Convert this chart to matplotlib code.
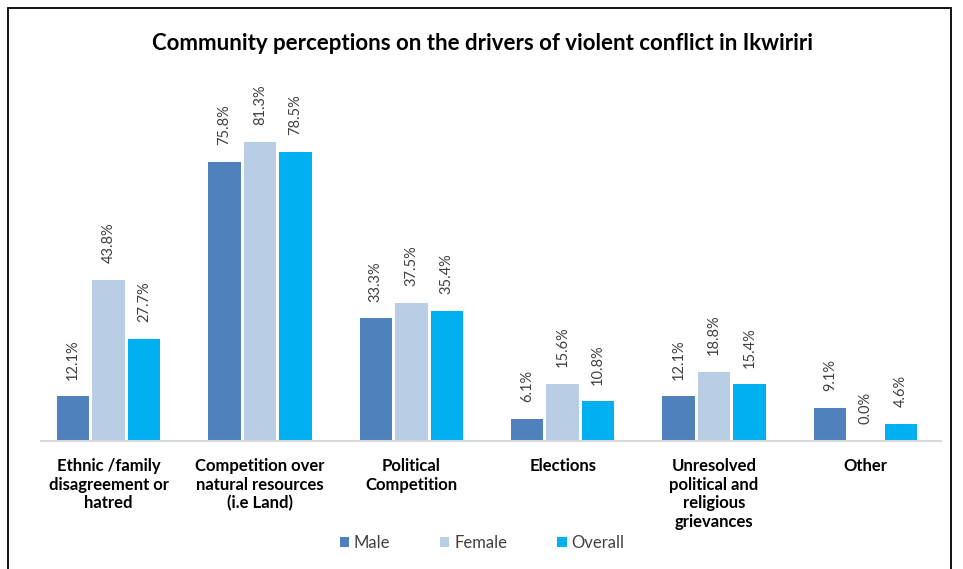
import matplotlib
matplotlib.use("Agg")
import matplotlib.pyplot as plt
import numpy as np
from matplotlib.patches import Rectangle

categories = ["Ethnic /family\ndisagreement or\nhatred",
              "Competition over\nnatural resources\n(i.e Land)",
              "Political\nCompetition",
              "Elections",
              "Unresolved\npolitical and\nreligious\ngrievances",
              "Other"]
series_names = ["Male", "Female", "Overall"]
male = [12.1, 75.8, 33.3, 6.1, 12.1, 9.1]
female = [43.8, 81.3, 37.5, 15.6, 18.8, 0.0]
overall = [27.7, 78.5, 35.4, 10.8, 15.4, 4.6]
colors = ["#4F81BD", "#B9CDE5", "#00B0F0"]

plt.rcParams['font.family'] = ['Lato', 'DejaVu Sans']

W, H = 963, 569
fig = plt.figure(figsize=(W/100, H/100), dpi=100)

# frame border
fig.patches.append(Rectangle((8/W, -0.05), (951-8)/W, (H-8)/H + 0.05,
                             transform=fig.transFigure, fill=False,
                             edgecolor="black", linewidth=1.3))

left, right, base, top = 33, 941, 441, 110
ax = fig.add_axes([left/W, (H-base)/H, (right-left)/W, (base-top)/H])
ymax = (base - top) / 3.68
ax.set_ylim(0, ymax)
ax.set_xlim(-0.5, len(categories) - 0.5)

x = np.arange(len(categories))
bw = 0.215
off = 0.235
for i, (vals, c, name) in enumerate(zip([male, female, overall], colors, series_names)):
    xs = x + (i - 1) * off
    ax.bar(xs, vals, width=bw, color=c, label=name, zorder=2)
    for xx, v in zip(xs, vals):
        ax.annotate(f"{v:.1f}%", (xx, v), xytext=(0, 12), textcoords="offset points",
                    rotation=90, ha="center", va="bottom", fontsize=10.5,
                    color="#404040", annotation_clip=False)

for s in ["top", "right", "left"]:
    ax.spines[s].set_visible(False)
ax.spines["bottom"].set_color("#d9d9d9")
ax.spines["bottom"].set_linewidth(1.5)
ax.spines["bottom"].set_bounds(-0.45, len(categories) - 0.5)
ax.set_yticks([])
ax.set_xticks(x)
ax.set_xticklabels(categories, fontsize=12, fontweight="bold", color="black",
                   linespacing=1.22, va="top")
ax.tick_params(axis="x", length=0, pad=12)

fig.text(483/W, 1 - 44/H, "Community perceptions on the drivers of violent conflict in Ikwiriri",
         ha="center", va="center", fontsize=16, fontweight="bold")

fig.legend(loc="center", bbox_to_anchor=(482/W, 1 - 543/H), ncol=3, frameon=False,
           fontsize=12, handlelength=0.55, handleheight=0.55, handletextpad=0.3,
           columnspacing=3.0, labelcolor="#404040")

fig.savefig("out.png", dpi=100)
